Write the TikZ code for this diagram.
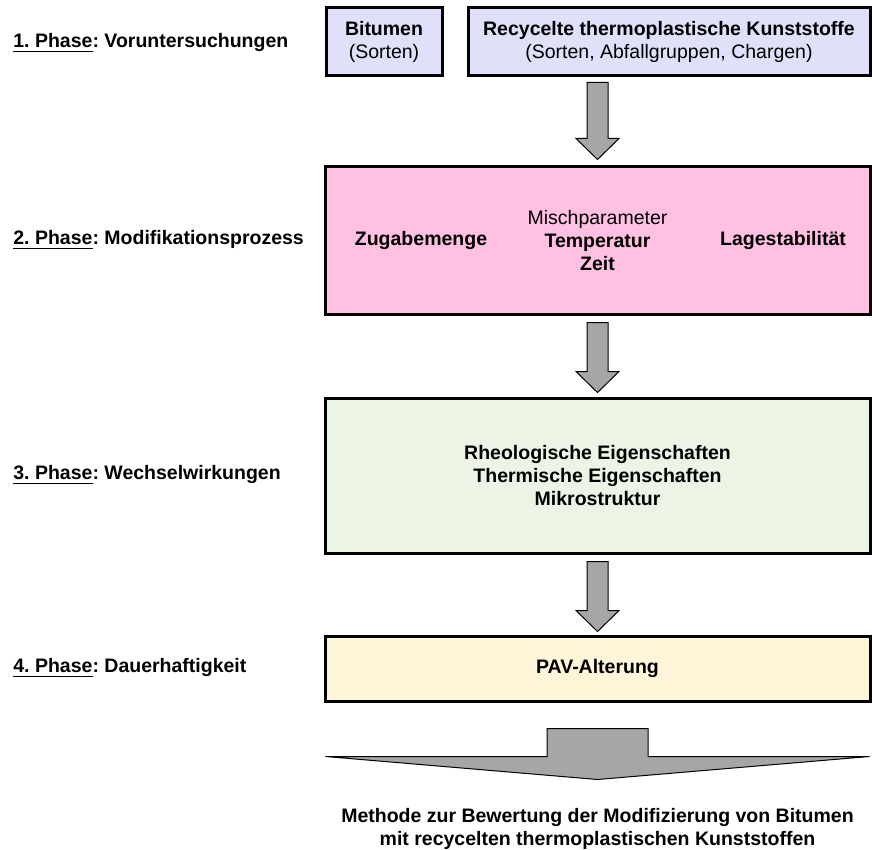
\documentclass[tikz,border=0pt]{standalone}
\usepackage{fontspec}
\setmainfont{Liberation Sans}
\usetikzlibrary{calc}
\frenchspacing

\definecolor{bitfill}{RGB}{224,224,250}
\definecolor{mixfill}{RGB}{255,192,226}
\definecolor{wwfill}{RGB}{236,245,229}
\definecolor{pavfill}{RGB}{255,245,216}
\definecolor{arrowgray}{RGB}{166,166,166}

\begin{document}
\begin{tikzpicture}[x=0.5pt,y=-0.5pt,
    font=\fontsize{9.75}{11.5}\selectfont\bfseries,
    phase/.style={anchor=west,inner sep=0pt},
    box/.style={draw,line width=1.5pt,align=center,inner sep=0pt},
    fatarrow/.style={draw,line width=0.5pt,fill=arrowgray,line join=miter}]
    \useasboundingbox (0,0) rectangle (872,850);

    % phase labels
    \node[phase] (p1) at (13,43) {\underline{1. Phase}: Voruntersuchungen};
    \node[phase] (p2) at (13,240) {\underline{2. Phase}: Modifikationsprozess};
    \node[phase] (p3) at (13,475) {\underline{3. Phase}: Wechselwirkungen};
    \node[phase] (p4) at (13,668) {\underline{4. Phase}: Dauerhaftigkeit};

    % boxes
    \node[box,fill=bitfill,minimum width=58pt,minimum height=34pt] (bit) at (384,42) {Bitumen\\{\mdseries(Sorten)}};
    \node[box,fill=bitfill,minimum width=201pt,minimum height=34pt] (rec) at (669,42) {Recycelte thermoplastische Kunststoffe\\{\mdseries(Sorten, Abfallgruppen, Chargen)}};
    \node[box,fill=mixfill,minimum width=272.5pt,minimum height=73.5pt] (mix) at (597.5,240.5) {{\mdseries Mischparameter}\\Temperatur\\Zeit};
    \node (zug) at (421,240.5) {Zugabemenge};
    \node (lag) at (783,240.5) {Lagestabilität};
    \node[box,fill=wwfill,minimum width=272.5pt,minimum height=77.5pt] (ww) at (597.5,475.5) {Rheologische Eigenschaften\\Thermische Eigenschaften\\Mikrostruktur};
    \node[box,fill=pavfill,minimum width=272.5pt,minimum height=32.5pt] (pav) at (597.5,668.5) {PAV-Alterung};

    % arrows
    \draw[fatarrow] ($(rec.south -| mix.north)+(-10.5,5)$) -- ++(21,0) -- ++(0,56) -- ++(11,0) -- ++(-21.5,21) -- ++(-21.5,-21) -- ++(11,0) -- cycle;
    \draw[fatarrow] ($(mix.south)+(-10.5,7)$) -- ++(21,0) -- ++(0,49) -- ++(11,0) -- ++(-21.5,21) -- ++(-21.5,-21) -- ++(11,0) -- cycle;
    \draw[fatarrow] ($(ww.south)+(-10.5,7)$) -- ++(21,0) -- ++(0,49) -- ++(11,0) -- ++(-21.5,21) -- ++(-21.5,-21) -- ++(11,0) -- cycle;
    \draw[fatarrow] ($(pav.south west)+(2,54)$) -- ($(pav.south)+(-50.5,54)$) -- ++(0,-28) -- ++(101,0) -- ++(0,28) -- ($(pav.south east)+(-2,54)$) -- ($(pav.south)+(0,77)$) -- cycle;

    \node[align=center] (meth) at (597.5,829) {Methode zur Bewertung der Modifizierung von Bitumen\\mit recycelten thermoplastischen Kunststoffen};
\end{tikzpicture}
\end{document}
